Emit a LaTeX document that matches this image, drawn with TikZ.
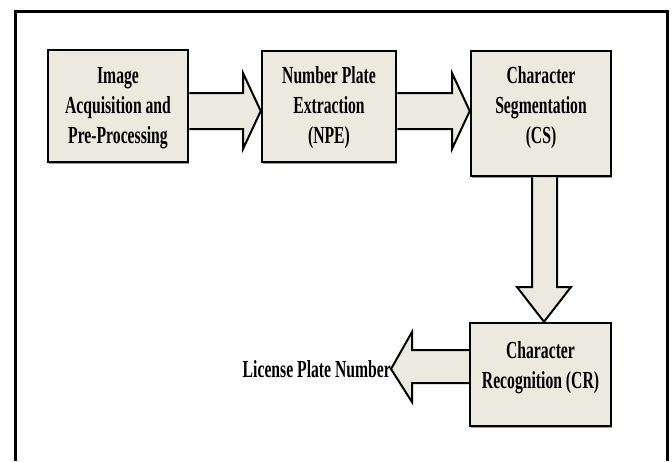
\documentclass[tikz,border=0pt]{standalone}
\usepackage{fontspec}
\newfontfamily\blockfont[FakeStretch=0.64]{Liberation Serif}
\usetikzlibrary{shadows}
\definecolor{blockfill}{RGB}{236,233,222}

\begin{document}
\begin{tikzpicture}[x=1pt,y=-1pt,
    block/.style={draw, line width=2.5pt, fill=blockfill, inner sep=0pt,
        drop shadow={shadow xshift=1pt, shadow yshift=-1.5pt, fill=black!40, opacity=1}},
    txt/.style={align=center, inner sep=0pt, font=\blockfont\bfseries\fontsize{24.5}{30}\selectfont},
    fat/.style={draw, line width=2pt, fill=blockfill, line join=miter}]
                      \useasboundingbox (0,0) rectangle (672,461);
                      % outer frame, open at the bottom
                      \draw[line width=3pt] (15,461) -- (15,11) -- (667,11) -- (667,461);
                      % blocks
                      \node[block, minimum width=140, minimum height=112] (ia) at (118,106) {};
                      \node[block, minimum width=134, minimum height=111] (npe) at (329,106.5) {};
                      \node[block, minimum width=140, minimum height=125] (cs) at (541,113.5) {};
                      \node[block, minimum width=141, minimum height=103] (cr) at (540.5,374.5) {};
                      \node[txt] (iatext) at (118,108) {Image\\Acquisition and\\Pre-Processing};
                      \node[txt] (npetext) at (329,108) {Number Plate\\Extraction\\(NPE)};
                      \node[txt] (cstext) at (541,108) {Character\\Segmentation\\(CS)};
                      \node[txt] (crtext) at (540.5,368) {Character\\Recognition (CR)};
                      \node[txt, anchor=east] (lpn) at (391,369) {License Plate Number};
                      % block arrows
                      \draw[fat] (ia.east |- 0,93) -- (243,93) -- (243,73) -- (npe.west |- 0,111) -- (243,149) -- (243,129) -- (ia.east |- 0,129);
                      \draw[fat] (npe.east |- 0,93) -- (452,93) -- (452,73) -- (cs.west |- 0,111) -- (452,149) -- (452,129) -- (npe.east |- 0,129);
                      \draw[fat] (532,0 |- cs.south) -- (532,287) -- (517,287) -- (544,0 |- cr.north) -- (571,287) -- (557,287) -- (557,0 |- cs.south);
                      \draw[fat] (cr.west |- 0,350) -- (412,350) -- (412,332) -- (lpn.east) -- (412,402) -- (412,383) -- (cr.west |- 0,383);
\end{tikzpicture}
\end{document}
